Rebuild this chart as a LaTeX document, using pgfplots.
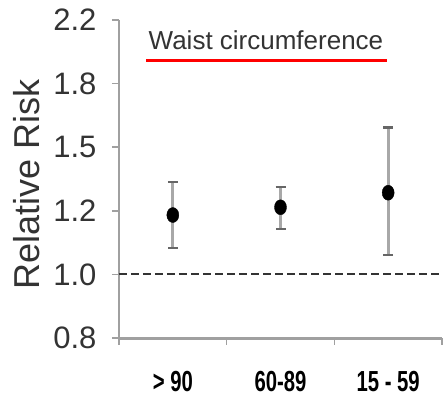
\documentclass[border=0pt]{standalone}
\usepackage{pgfplots}
\pgfplotsset{compat=1.18}
\usepackage{fontspec}
\setmainfont{Liberation Sans}
\usetikzlibrary{calc}
\definecolor{axgray}{HTML}{A0A0A0}
\definecolor{txt}{HTML}{333333}
\definecolor{barg}{HTML}{A8A8A8}
\definecolor{capg}{HTML}{666666}
\begin{document}
\begin{tikzpicture}
\begin{axis}[name=ax, scale only axis, width=323bp, height=318bp,
  xmin=0, xmax=3, ymode=log, ymin=0.8, ymax=2.2,
  axis lines*=left,
  x axis line style={axgray, line width=3bp},
  y axis line style={axgray, line width=1.8bp},
  xtick={0,1,2,3}, xticklabels={},
  ytick={0.8,0.9794,1.199,1.468,1.797,2.2},
  yticklabels={0.8,1.0,1.2,1.5,1.8,2.2},
  tick align=outside,
  major tick length=7bp,
  tick style={axgray, line width=1.5bp},
  yticklabel style={font=\fontsize{31bp}{31bp}\selectfont, text=txt, xshift=-12bp},
  extra x ticks={0.5,1.5,2.5},
  extra x tick labels={{\scalebox{0.7}[1]{\bfseries > 90}},{\scalebox{0.7}[1]{\bfseries 60-89}},{\scalebox{0.7}[1]{\bfseries 15 - 59}}},
  extra x tick style={major tick length=0pt, xticklabel style={font=\fontsize{29bp}{29bp}\selectfont, text=black, anchor=north, inner sep=0pt, yshift=-33bp}},
  clip=false,
]
\addplot[txt, line width=1.8bp, dash pattern=on 8bp off 4bp] coordinates {(0,0.9794) (3,0.9794)};
\addplot[only marks, mark=none,
  error bars/.cd, y dir=both, y explicit,
  error bar style={color=barg, line width=3bp},
  error mark options={rotate=90, mark size=5bp, line width=2.5bp, color=capg}]
  coordinates {
    (0.5,1.183) += (0,0.130) -= (0,0.117)
    (1.5,1.2125) += (0,0.080) -= (0,0.081)
    (2.5,1.270) += (0,0.292) -= (0,0.228)
  };
\addplot[only marks, mark=*, mark size=7.5bp, mark options={fill=black, draw=black, xscale=0.8}]
  coordinates {(0.5,1.183) (1.5,1.2125) (2.5,1.270)};
\node[font=\fontsize{26bp}{26bp}\selectfont, text=txt] at (rel axis cs:0.455,0.937) {Waist circumference};
\draw[red, line width=3bp] (rel axis cs:0.0836,0.874) -- (rel axis cs:0.829,0.874);
\end{axis}
\node[rotate=90, font=\fontsize{36bp}{36bp}\selectfont, text=txt] at ($(ax.south west)+(-92bp,153.6bp)$) {Relative Risk};
\pgfresetboundingbox
\path[use as bounding box] ($(ax.south west)+(-119bp,-65bp)$) rectangle ($(ax.north east)+(1bp,20bp)$);
\end{tikzpicture}
\end{document}
